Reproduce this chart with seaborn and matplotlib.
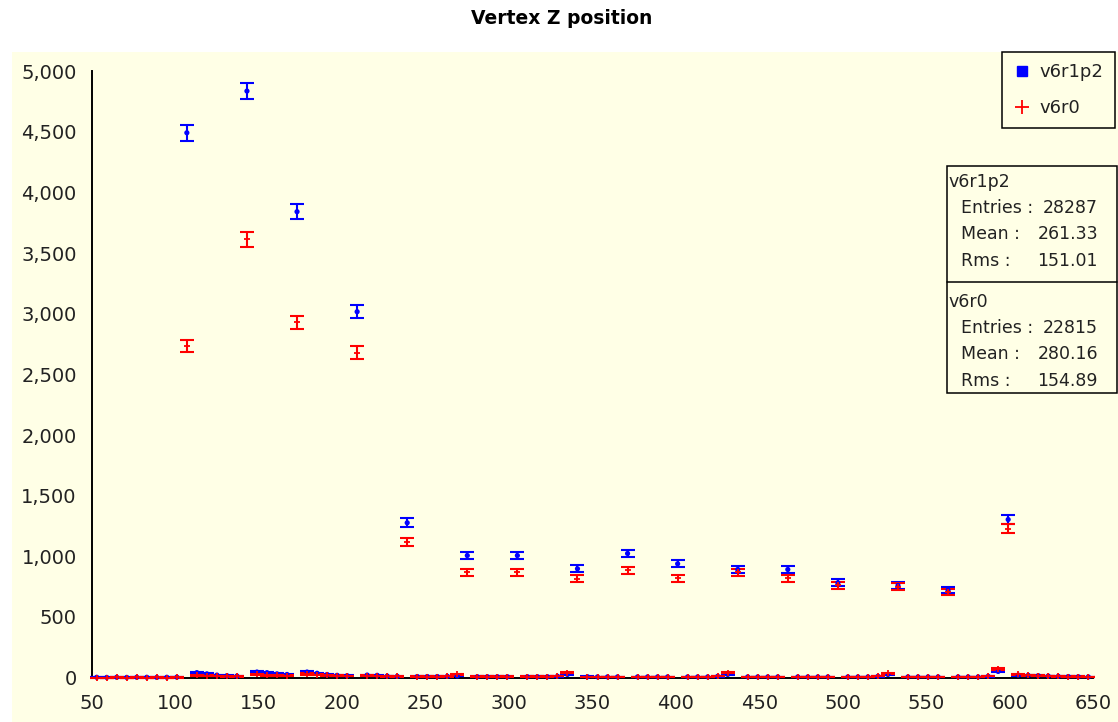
import numpy as np
import pandas as pd
import matplotlib
matplotlib.use("Agg")
import matplotlib.pyplot as plt
from matplotlib.patches import Rectangle
from matplotlib.lines import Line2D
from matplotlib.ticker import FuncFormatter, FixedLocator
import seaborn as sns

# ---------------- data ----------------
title = "Vertex Z position"
series_names = ["v6r1p2", "v6r0"]
series_colors = ["#0000FF", "#FF0000"]

# 100 bins of width 6 between 50 and 650 (bin centres)
bin_centers = list(range(53, 650, 6))

counts_v6r1p2 = [
    2, 1, 2, 1, 2, 2, 1, 2, 3,
    4493,
    40, 30, 20, 15, 12,
    4837,
    45, 40, 30, 25,
    3842,
    45, 35, 25, 18, 15,
    3017,
    20, 18, 12, 10,
    1276,
    8, 8, 8, 10, 12,
    1006,
    6, 6, 6, 6,
    1006,
    6, 6, 6, 10, 25,
    897,
    6, 5, 5, 5,
    1023,
    5, 5, 5, 5,
    938,
    5, 5, 5, 10, 25,
    891,
    5, 5, 5, 5,
    891,
    5, 5, 5, 5,
    781,
    5, 5, 5, 10, 25,
    759,
    5, 5, 5, 5,
    720,
    5, 5, 5, 10, 50,
    1303,
    20, 18, 15, 12, 10, 8, 6, 5,
]

counts_v6r0 = [
    0, 0, 1, 0, 1, 0, 1, 0, 1,
    2733,
    20, 15, 12, 10, 10,
    3613,
    25, 20, 18, 15,
    2931,
    30, 22, 18, 15, 12,
    2679,
    15, 12, 10, 10,
    1116,
    8, 8, 8, 10, 25,
    869,
    6, 6, 6, 6,
    869,
    6, 6, 6, 12, 40,
    814,
    5, 5, 5, 5,
    883,
    5, 5, 5, 5,
    819,
    5, 5, 5, 12, 40,
    869,
    5, 5, 5, 5,
    820,
    5, 5, 5, 5,
    759,
    5, 5, 5, 12, 35,
    748,
    5, 5, 5, 5,
    704,
    5, 5, 5, 12, 70,
    1227,
    25, 20, 15, 12, 10, 8, 6, 5,
]

x_ticks = list(range(50, 651, 50))
y_ticks = list(range(0, 5001, 500))

stat_entries = [28287, 22815]
stat_means = [261.33, 280.16]
stat_rms = [151.01, 154.89]

# ---------------- layout ----------------
W, H, DPI = 1118, 722, 100
BG = "#FFFFE6"

sns.set_theme(style="white")
plt.rcParams["font.family"] = ["DejaVu Sans"]

fig = plt.figure(figsize=(W / DPI, H / DPI), dpi=DPI, facecolor="white")


def fx(px):
    return px / W


def fy(py):
    return 1 - py / H


fig.add_artist(Rectangle((fx(12), 0), 1 - fx(12), fy(52), transform=fig.transFigure,
                         facecolor=BG, edgecolor="none", zorder=-5))

ax = fig.add_axes([fx(91.7), fy(677.5), fx(1093.3) - fx(91.7), fy(71.3) - fy(677.5)])
ax.set_facecolor("none")

df = pd.DataFrame({
    "z": bin_centers * 2,
    "count": counts_v6r1p2 + counts_v6r0,
    "series": [series_names[0]] * len(bin_centers) + [series_names[1]] * len(bin_centers),
})
df["err"] = np.sqrt(df["count"])

# error bars
for name, col in zip(series_names, series_colors):
    sub = df[df["series"] == name]
    ax.errorbar(sub["z"], sub["count"], yerr=sub["err"], fmt="none", ecolor=col,
                elinewidth=1.5, capsize=4.7, capthick=1.5, clip_on=False, zorder=3)

# markers
sub0 = df[df["series"] == series_names[0]]
sns.scatterplot(data=sub0, x="z", y="count", ax=ax, color=series_colors[0], marker="o",
                s=14, edgecolor="none", legend=False, clip_on=False, zorder=4)
sub1 = df[df["series"] == series_names[1]]
sns.scatterplot(data=sub1, x="z", y="count", ax=ax, color=series_colors[1], marker="+",
                s=22, linewidth=1.3, legend=False, clip_on=False, zorder=5)

ax.set_xlim(50, 650)
ax.set_ylim(0, 5000)
ax.xaxis.set_major_locator(FixedLocator(x_ticks))
ax.yaxis.set_major_locator(FixedLocator(y_ticks))
ax.yaxis.set_major_formatter(FuncFormatter(lambda v, p: f"{int(v):,}"))
ax.set_xlabel("")
ax.set_ylabel("")
for s in ["top", "right"]:
    ax.spines[s].set_visible(False)
for s in ["left", "bottom"]:
    ax.spines[s].set_color("black")
    ax.spines[s].set_linewidth(1.4)
ax.tick_params(axis="both", direction="inout", length=14.4, width=1.4, color="black",
               labelsize=14, labelcolor="#222222")
ax.tick_params(axis="y", pad=3.6)
ax.tick_params(axis="x", pad=4.5)

# title
fig.text(fx(562), fy(18), title, ha="center", va="center", fontsize=13.5,
         fontweight="bold", color="black")

# legend
handles = [
    Line2D([], [], marker="s", color=series_colors[0], linestyle="none", markersize=7.5),
    Line2D([], [], marker="+", color=series_colors[1], linestyle="none", markersize=10,
           markeredgewidth=1.3),
]
leg = ax.legend(handles, series_names, loc="upper left",
                bbox_to_anchor=(fx(1002), fy(52)), bbox_transform=fig.transFigure,
                frameon=True, fancybox=False, edgecolor="black", facecolor=BG, framealpha=1,
                fontsize=13, handlelength=1.0, handletextpad=0.5, borderpad=0.6,
                labelspacing=1.0, borderaxespad=0)
leg.get_frame().set_linewidth(1.1)
for t in leg.get_texts():
    t.set_color("#222222")

# statistics box
fig.add_artist(Rectangle((fx(947), fy(393)), fx(1117) - fx(947), fy(166) - fy(393),
                         transform=fig.transFigure, facecolor=BG, edgecolor="black",
                         linewidth=1.1, zorder=6))
fig.add_artist(Line2D([fx(947), fx(1117)], [fy(282), fy(282)], transform=fig.transFigure,
                      color="black", linewidth=1.1, zorder=7))
tops = [182, 302]
for i, name in enumerate(series_names):
    y0 = tops[i]
    fig.text(fx(948), fy(y0), name, ha="left", va="center", fontsize=12.5, color="#222222", zorder=8)
    rows = [("Entries :", f"{stat_entries[i]}"),
            ("Mean :", f"{stat_means[i]:.2f}"),
            ("Rms :", f"{stat_rms[i]:.2f}")]
    for j, (lab, val) in enumerate(rows):
        yy = y0 + 26 + j * 26.5
        fig.text(fx(961), fy(yy), lab, ha="left", va="center", fontsize=12.5, color="#222222", zorder=8)
        fig.text(fx(1098), fy(yy), val, ha="right", va="center", fontsize=12.5, color="#222222", zorder=8)

fig.savefig("out.png", dpi=DPI, facecolor="white")
